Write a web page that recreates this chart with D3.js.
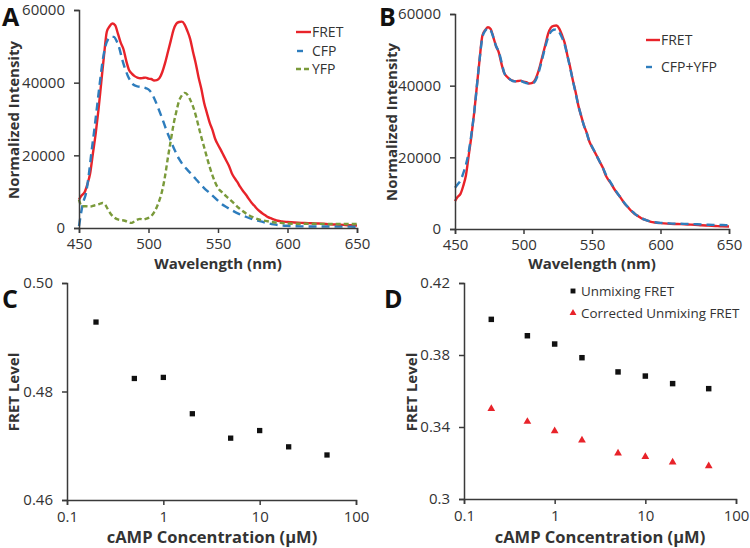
<!DOCTYPE html>
<html><head><meta charset="utf-8">
<script src="https://cdn.jsdelivr.net/npm/d3@7"></script>
<style>body{margin:0;background:#fff}text{font-family:"Open Sans",sans-serif}</style>
</head><body><svg id="c" width="750" height="548"></svg>
<script>
// ---------- DATA ----------
const wlTicks = [450, 500, 550, 600, 650];
const intTicks = [0, 20000, 40000, 60000];

const fretWl = [450,452,454,456,458,460,462,464,466,468,470,472,474,476,478,480,482,484,486,488,490,492,494,496,498,500,502,504,506,508,510,512,514,516,518,520,522,524,526,528,530,532,534,536,538,540,542,544,546,548,550,552,554,556,558,560,562,564,566,568,570,572,574,576,578,580,582,584,586,588,590,593,596,600,605,610,615,620,625,630,635,640,645,650];
const fretVal = [7800,9000,9800,12000,15000,20500,26000,32500,40000,47500,54000,55500,56300,55800,53500,51000,49200,46000,43500,42500,41800,41400,41200,41300,41400,41100,41000,40600,40700,41300,43000,45500,48500,51500,54500,56200,56700,56800,56000,54200,52000,48500,45300,41500,38300,34500,31700,29000,27000,24500,22900,21500,20000,18500,17000,15000,13700,12600,11300,10200,9200,8100,7000,6200,5300,4600,4000,3500,3000,2700,2400,2000,1800,1650,1500,1400,1350,1250,1200,1050,950,850,750,700];

const cfpWl = [450,451,453,455,457,459,461,463,465,467,469,471,473,475,477,479,481,483,485,487,489,492,495,498,501,504,507,510,513,516,519,522,525,528,531,534,537,540,544,548,552,556,560,565,570,575,580,585,590,595,600,610,620,630,640,650];
const cfpVal = [500,3000,7000,9500,14500,21000,27000,33500,40000,46000,50000,52000,52600,52600,51500,49500,46500,44000,42000,40500,39500,39000,38800,38500,37800,35800,33000,30000,26800,24000,21300,19000,17300,16000,14800,13500,12200,11000,9600,8200,6800,5800,4900,3900,3100,2400,1900,1400,1000,750,600,450,400,400,380,350];

const yfpWl = [450,452,455,458,461,464,467,469,471,473,475,477,480,483,486,488,490,492,494,496,498,500,502,504,506,508,510,512,514,516,518,520,522,524,526,528,530,532,534,536,538,540,542,544,546,548,550,553,556,559,562,565,568,571,575,580,585,590,595,600,610,620,630,640,650];
const yfpVal = [7800,6000,6000,5900,6200,6500,6900,6300,5000,3800,3000,2500,2200,2000,1500,1400,1900,2300,2500,2300,2500,2800,3300,4300,5800,7800,10500,14500,19500,24000,28500,32000,35000,36500,37200,36700,35300,33500,31000,28000,25000,22300,19500,16800,14500,12500,11000,9800,8700,7700,6600,5500,4600,3800,3000,2300,1900,1600,1400,1250,1150,1150,1100,1100,1100];

const sumWl = [450,452,454,456,458,460,462,464,466,468,470,472,474,476,478,480,482,484,486,488,490,492,494,496,498,500,502,504,506,508,510,512,514,516,518,520,522,524,526,528,530,532,534,536,538,540,542,544,546,548,550,552,554,556,558,560,562,564,566,568,570,572,574,576,578,580,582,584,586,588,590,593,596,600,605,610,615,620,625,630,635,640,645,650];
const sumVal = [11500,12500,13500,15500,18000,21500,26500,32500,40000,47500,53500,55300,56000,55500,53500,51000,49500,46500,43500,42500,41800,41300,41200,41200,41300,41000,40700,40600,40600,41000,42500,45000,48000,51000,53500,55000,55600,55700,55000,53500,51500,48500,45000,41500,38000,34500,31700,29000,27000,24500,23000,21500,20000,18500,17000,15300,14000,12700,11500,10300,9200,8100,7100,6200,5400,4700,4000,3500,3000,2700,2400,2100,1900,1700,1600,1500,1450,1400,1350,1300,1200,1150,1100,1050];

const concTicks = [0.1, 1, 10, 100];
const concTickLabels = ["0.1", "1", "10", "100"];
const conc = [0.2, 0.5, 1, 2, 5, 10, 20, 50];
const fretLevelC = [0.4928, 0.4824, 0.4826, 0.4759, 0.4714, 0.4728, 0.4698, 0.4683];
const levelTicksC = [0.46, 0.48, 0.50];
const levelTickLabelsC = ["0.46", "0.48", "0.50"];
const unmixingFret = [0.3998, 0.3907, 0.3861, 0.3785, 0.3706, 0.3683, 0.3641, 0.3613];
const correctedFret = [0.3502, 0.3430, 0.3378, 0.3326, 0.3254, 0.3235, 0.3204, 0.3183];
const levelTicksD = [0.30, 0.34, 0.38, 0.42];
const levelTickLabelsD = ["0.3", "0.34", "0.38", "0.42"];

// ---------- STYLE ----------
const RED = "#e8232a", BLUE = "#2e7dbd", GREEN = "#7a9a3a", AXIS = "#3a3a3a", TXT = "#333";
const svg = d3.select("#c");

function styleAxis(g) {
  g.select(".domain").attr("stroke", AXIS).attr("stroke-width", 1.5);
  g.selectAll(".tick line").attr("stroke", AXIS).attr("stroke-width", 1.5);
  g.selectAll(".tick text").attr("fill", TXT).style("font-size", "15px").style("font-family", "'Open Sans',sans-serif");
}

function panelLetter(t, x, y) {
  svg.append("text").attr("x", x).attr("y", y).text(t)
    .style("font-size", "25px").style("font-weight", "bold").attr("fill", "#111");
}
function xTitle(t, cx, y, fs) {
  svg.append("text").attr("x", cx).attr("y", y).attr("text-anchor", "middle").text(t)
    .style("font-size", (fs || 15) + "px").style("font-weight", "bold").attr("fill", TXT);
}
function yTitle(t, x, cy) {
  svg.append("text").attr("transform", `translate(${x},${cy}) rotate(-90)`).attr("text-anchor", "middle").text(t)
    .style("font-size", "15px").style("font-weight", "bold").attr("fill", TXT);
}

function spectrumPanel(p) {
  const x = d3.scaleLinear().domain([450, 650]).range([p.x0, p.x1]);
  const y = d3.scaleLinear().domain([0, 60000]).range([p.y1, p.y0]);
  const gen = d3.line().x(d => x(d[0])).y(d => y(d[1])).curve(d3.curveMonotoneX);
  p.series.forEach(s => {
    const pts = s.wl.map((w, i) => [w, s.val[i]]);
    svg.append("path").attr("d", gen(pts)).attr("fill", "none").attr("stroke", s.color)
      .attr("stroke-width", 2.4).attr("stroke-dasharray", s.dash || null);
  });
  const gx = svg.append("g").attr("transform", `translate(0,${p.y1})`)
    .call(d3.axisBottom(x).tickValues(wlTicks).tickSize(5).tickPadding(5).tickFormat(d3.format("d")));
  styleAxis(gx);
  const gy = svg.append("g").attr("transform", `translate(${p.x0},0)`)
    .call(d3.axisLeft(y).tickValues(intTicks).tickSize(5).tickPadding(9).tickFormat(d3.format("d")));
  styleAxis(gy);
  p.series.forEach((s, i) => {
    const ly = p.legY[i];
    svg.append("line").attr("x1", s.legX0).attr("x2", s.legX1).attr("y1", ly).attr("y2", ly)
      .attr("stroke", s.color).attr("stroke-width", 2.4).attr("stroke-dasharray", s.dash || null);
    svg.append("text").attr("x", p.legTextX).attr("y", ly + 5).text(s.name)
      .style("font-size", "14px").attr("fill", TXT);
  });
}

spectrumPanel({
  x0: 79, x1: 357, y0: 10, y1: 228,
  legY: [32, 51, 69], legTextX: 312,
  series: [
    {name: "FRET", wl: fretWl, val: fretVal, color: RED, legX0: 296, legX1: 311},
    {name: "CFP", wl: cfpWl, val: cfpVal, color: BLUE, dash: "8,5", legX0: 297, legX1: 303},
    {name: "YFP", wl: yfpWl, val: yfpVal, color: GREEN, dash: "5,3", legX0: 296, legX1: 311}
  ]
});
spectrumPanel({
  x0: 455, x1: 729, y0: 14, y1: 229,
  legY: [40, 67], legTextX: 661,
  series: [
    {name: "FRET", wl: fretWl, val: fretVal, color: RED, legX0: 646, legX1: 660},
    {name: "CFP+YFP", wl: sumWl, val: sumVal, color: BLUE, dash: "8,5", legX0: 646, legX1: 652}
  ]
});

function scatterPanel(p) {
  const x = d3.scaleLog().domain([0.1, 100]).range([p.x0, p.x1]);
  const y = d3.scaleLinear().domain(p.ydom).range([p.y1, p.y0]);
  const gx = svg.append("g").attr("transform", `translate(0,${p.y1})`)
    .call(d3.axisBottom(x).tickValues(concTicks).tickSize(5).tickPadding(6)
      .tickFormat((d, i) => concTickLabels[i]));
  styleAxis(gx);
  const gy = svg.append("g").attr("transform", `translate(${p.x0},0)`)
    .call(d3.axisLeft(y).tickValues(p.yticks).tickSize(5).tickPadding(9)
      .tickFormat((d, i) => p.ylabels[i]));
  styleAxis(gy);
  p.series.forEach(s => {
    const sym = d3.symbol().type(s.shape).size(s.size);
    svg.append("g").selectAll("path").data(conc).join("path")
      .attr("transform", (d, i) => `translate(${x(d)},${y(s.vals[i])})`)
      .attr("d", sym()).attr("fill", s.color);
  });
  if (p.legend) {
    p.series.forEach((s, i) => {
      const ly = p.legY[i];
      svg.append("path").attr("transform", `translate(${p.legX},${ly})`)
        .attr("d", d3.symbol().type(s.shape).size(s.size * 0.8)()).attr("fill", s.color);
      svg.append("text").attr("x", p.legX + 8).attr("y", ly + 5).text(s.name)
        .style("font-size", "13.4px").attr("fill", TXT);
    });
  }
}

scatterPanel({
  x0: 67, x1: 356, y0: 283, y1: 500,
  ydom: [0.46, 0.50], yticks: levelTicksC, ylabels: levelTickLabelsC,
  series: [{name: "FRET", vals: fretLevelC, shape: d3.symbolSquare, size: 28, color: "#111"}]
});
scatterPanel({
  x0: 464, x1: 736, y0: 283, y1: 499,
  ydom: [0.30, 0.42], yticks: levelTicksD, ylabels: levelTickLabelsD,
  legend: true, legX: 573, legY: [291, 313],
  series: [
    {name: "Unmixing FRET", vals: unmixingFret, shape: d3.symbolSquare, size: 30, color: "#111"},
    {name: "Corrected Unmixing FRET", vals: correctedFret, shape: d3.symbolTriangle, size: 26, color: RED}
  ]
});

// titles and panel letters
panelLetter("A", 2, 26); panelLetter("B", 379, 26);
panelLetter("C", 2, 308); panelLetter("D", 384, 308);
xTitle("Wavelength (nm)", 218, 269); xTitle("Wavelength (nm)", 592, 269);
yTitle("Normalized Intensity", 19, 120); yTitle("Normalized Intensity", 397, 122);
xTitle("cAMP Concentration (\u00b5M)", 212, 543, 16.5); xTitle("cAMP Concentration (\u00b5M)", 600, 543, 16.5);
yTitle("FRET Level", 19, 392); yTitle("FRET Level", 417, 392);
</script></body></html>
